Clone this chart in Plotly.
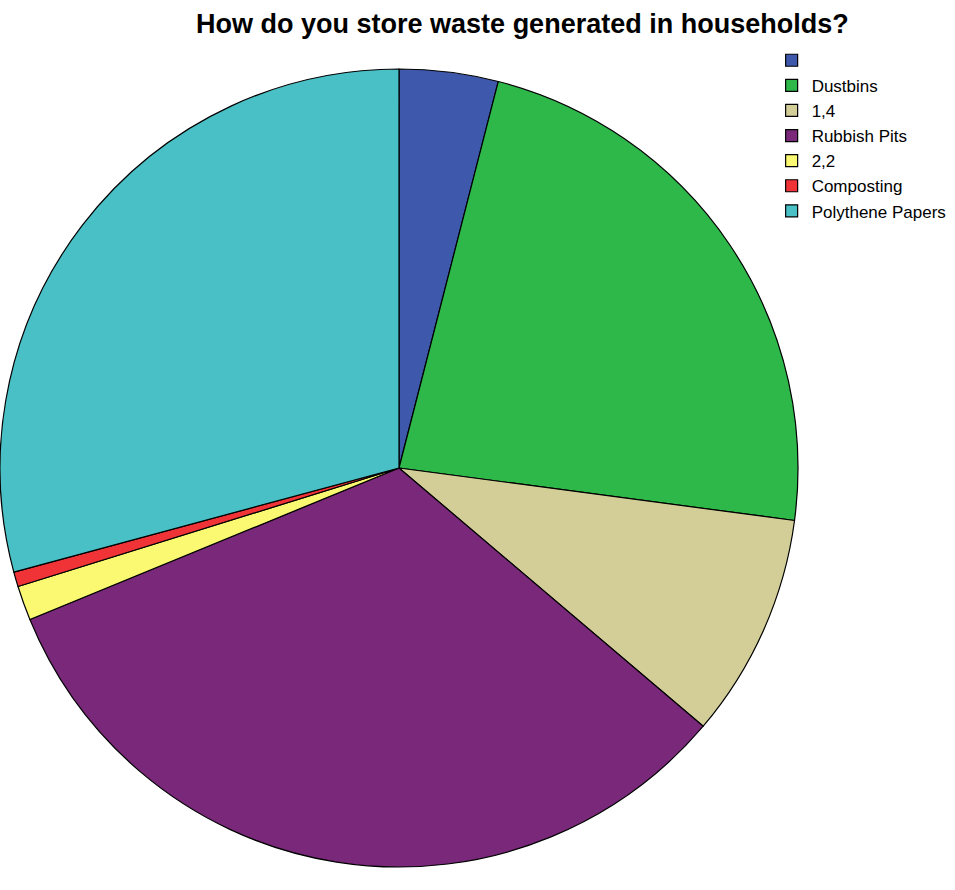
import plotly.graph_objects as go

labels = [" ", "Dustbins", "1,4", "Rubbish Pits", "2,2", "Composting", "Polythene Papers"]
values = [4.0, 23.1, 9.1, 32.6, 1.4, 0.6, 29.2]
colors = ["#3e58ac", "#2eb84a", "#d3ce98", "#79287a", "#fbf872", "#ef3337", "#48c0c6"]

fig = go.Figure(go.Pie(
    labels=labels,
    values=values,
    sort=False,
    direction="clockwise",
    rotation=0,
    marker=dict(colors=colors, line=dict(color="black", width=1.2)),
    textinfo="none",
    domain=dict(x=[0, 0.8356], y=[0.02584, 0.92247]),
))

fig.update_layout(
    width=955, height=890,
    margin=dict(l=0, r=0, t=0, b=0),
    paper_bgcolor="white",
    font=dict(family="Liberation Sans, Arial, sans-serif", color="black", size=17),
    title=dict(text="<b>How do you store waste generated in households?</b>",
               x=0.547, xanchor="center", y=0.973, yanchor="middle",
               font=dict(size=27, color="black")),
    legend=dict(x=0.808, xanchor="left", y=0.952, yanchor="top",
                bgcolor="rgba(0,0,0,0)", font=dict(size=17),
                traceorder="normal"),
)

fig.write_html("out.html")
